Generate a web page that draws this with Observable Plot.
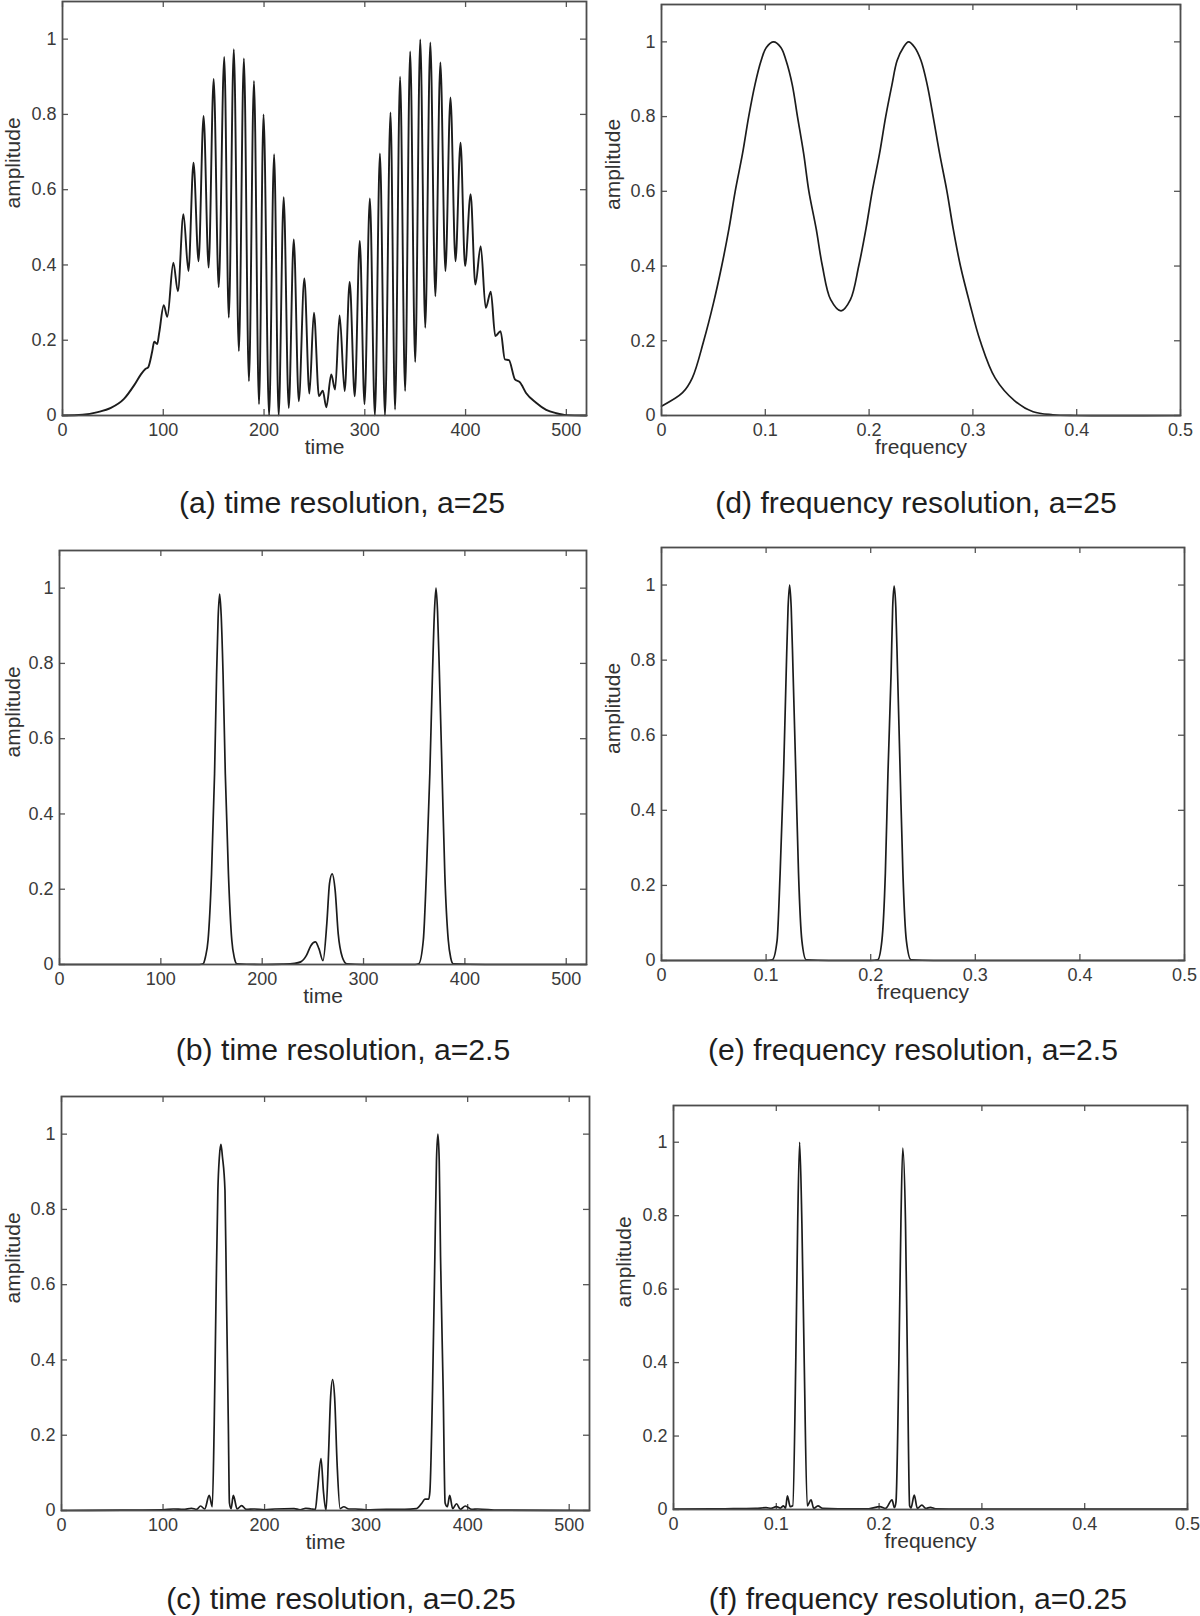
<!DOCTYPE html>
<html><head><meta charset="utf-8">
<script src="https://cdn.jsdelivr.net/npm/d3@7"></script>
<script src="https://cdn.jsdelivr.net/npm/@observablehq/plot@0.6"></script>
<style>
html,body{margin:0;padding:0;background:#fff;}
#page{position:relative;width:1200px;height:1616px;overflow:hidden;background:#fff;font-family:"Liberation Sans",Arial,Helvetica,sans-serif;}
.panel{position:absolute;}
.caption{position:absolute;font-size:29px;color:#1e1e1e;white-space:nowrap;transform:translate(-50%,-50%) scaleX(1.04);}
</style></head><body><div id="page"></div>
<script>
// ---------- tick values ----------
const timeTicks = [0, 100, 200, 300, 400, 500];
const freqTicks = [0, 0.1, 0.2, 0.3, 0.4, 0.5];
const ampTicks = [0, 0.2, 0.4, 0.6, 0.8, 1];

// ---------- (a) time resolution, a=25 ----------
const timeA = [0, 20, 35, 48, 61, 71, 78, 82, 85, 89, 91, 94, 96, 100.5, 104, 110, 114.5, 120, 125, 130, 135, 140, 145, 150, 155, 160.5, 165, 170, 175, 180, 185, 190, 195, 199.5, 205, 210, 214.5, 219.5, 224.5, 229.5, 234.5, 240, 245, 249.5, 254.5, 258.3, 261.8, 266.7, 270.5, 275, 280, 285, 290, 295, 299.7, 305, 310, 315, 320, 325.5, 330, 335, 340, 345, 350, 355, 360, 365, 370, 375, 380, 385, 390, 395, 399.5, 405, 409.7, 415, 420, 425, 429.5, 434.7, 439, 443, 449, 454, 460, 470, 480, 490, 500, 520];
const ampA = [0, 0.002, 0.009, 0.02, 0.044, 0.08, 0.11, 0.123, 0.128, 0.17, 0.196, 0.19, 0.22, 0.293, 0.262, 0.406, 0.33, 0.535, 0.384, 0.672, 0.41, 0.796, 0.393, 0.894, 0.341, 0.953, 0.26, 0.973, 0.171, 0.949, 0.091, 0.889, 0.03, 0.80, 0.0, 0.694, 0.0, 0.58, 0.02, 0.468, 0.038, 0.364, 0.058, 0.273, 0.051, 0.066, 0.022, 0.109, 0.069, 0.266, 0.065, 0.355, 0.051, 0.464, 0.03, 0.577, 0.0, 0.696, 0.0, 0.805, 0.016, 0.9, 0.065, 0.967, 0.142, 0.999, 0.233, 0.991, 0.317, 0.938, 0.384, 0.845, 0.41, 0.725, 0.397, 0.588, 0.348, 0.45, 0.286, 0.329, 0.211, 0.224, 0.149, 0.147, 0.096, 0.088, 0.06, 0.034, 0.015, 0.006, 0.001, 0];

// ---------- (d) frequency resolution, a=25 ----------
const freqD = [0, 0.0203, 0.0296, 0.0407, 0.05, 0.058, 0.065, 0.071, 0.078, 0.084, 0.09, 0.096, 0.101, 0.108, 0.115, 0.12, 0.126, 0.131, 0.137, 0.142, 0.149, 0.155, 0.163, 0.173, 0.182, 0.19, 0.197, 0.203, 0.21, 0.216, 0.222, 0.227, 0.233, 0.238, 0.244, 0.25, 0.256, 0.2617, 0.268, 0.275, 0.281, 0.288, 0.297, 0.307, 0.3215, 0.34, 0.358, 0.377, 0.4, 0.5];
const ampD = [0.025, 0.061, 0.1, 0.2, 0.3, 0.4, 0.5, 0.6, 0.7, 0.8, 0.885, 0.95, 0.985, 1.0, 0.985, 0.95, 0.885, 0.8, 0.7, 0.6, 0.5, 0.4, 0.31, 0.28, 0.31, 0.4, 0.5, 0.6, 0.7, 0.8, 0.885, 0.95, 0.985, 1.0, 0.985, 0.95, 0.885, 0.8, 0.7, 0.6, 0.5, 0.4, 0.3, 0.2, 0.1, 0.04, 0.01, 0.002, 0, 0];

// ---------- (b) time resolution, a=2.5 ----------
const timeB = [0, 100, 138, 141.7, 144, 146.6, 150, 153, 155, 156.5, 158, 159.5, 161.4, 163.6, 166.7, 170, 172.5, 175, 200, 220, 232, 238, 243.8, 248, 252.5, 256, 260, 263.8, 266.4, 269, 272, 275, 279, 283.4, 300, 340, 351, 354.5, 359, 362, 365.4, 368, 370, 371.5, 373, 374.9, 377.5, 380.2, 383.6, 386, 388.5, 420, 520];
const ampB = [0, 0, 0, 0.002, 0.02, 0.065, 0.24, 0.507, 0.77, 0.92, 0.984, 0.93, 0.77, 0.507, 0.24, 0.065, 0.018, 0.002, 0, 0.001, 0.003, 0.007, 0.025, 0.05, 0.06, 0.042, 0.01, 0.11, 0.215, 0.241, 0.197, 0.082, 0.02, 0.002, 0, 0, 0, 0.002, 0.065, 0.24, 0.507, 0.77, 0.94, 1.0, 0.94, 0.77, 0.507, 0.24, 0.065, 0.018, 0.002, 0, 0];

// ---------- (e) frequency resolution, a=2.5 ----------
const freqE = [0, 0.1, 0.106, 0.1105, 0.1134, 0.1167, 0.1192, 0.121, 0.1225, 0.124, 0.1258, 0.1284, 0.131, 0.1342, 0.1383, 0.16, 0.2, 0.2067, 0.2107, 0.214, 0.2165, 0.2195, 0.221, 0.2224, 0.224, 0.2257, 0.2282, 0.2308, 0.2341, 0.2385, 0.26, 0.5];
const ampE = [0, 0, 0.002, 0.053, 0.232, 0.499, 0.766, 0.94, 1.0, 0.94, 0.766, 0.499, 0.232, 0.053, 0.002, 0, 0, 0.002, 0.053, 0.232, 0.499, 0.766, 0.94, 0.997, 0.94, 0.766, 0.499, 0.232, 0.053, 0.002, 0, 0];

// ---------- (c) time resolution, a=0.25 ----------
const timeC = [0, 60, 100, 110, 120, 128, 133, 137, 141, 145.5, 148.5, 150.4, 152.3, 154, 155.5, 157, 158.5, 161, 162.4, 164.3, 165.4, 167, 169.2, 173, 177.4, 182, 190, 200, 210, 229, 235, 240.6, 246, 250, 252, 255.6, 258, 260.5, 263, 265, 267, 269, 271.5, 274.4, 278, 283, 289.5, 300, 320, 338, 349.6, 355, 357.9, 361.6, 362.8, 365.4, 367.7, 369.3, 370.7, 372, 373.3, 375.9, 377.8, 380, 382.3, 385.3, 389, 392.9, 397.7, 404, 410, 430, 520];
const ampC = [0, 0.001, 0.002, 0.004, 0.003, 0.006, 0.003, 0.012, 0.004, 0.04, 0.01, 0.23, 0.585, 0.85, 0.94, 0.973, 0.94, 0.85, 0.585, 0.23, 0.02, 0.005, 0.04, 0.004, 0.013, 0.003, 0.004, 0.002, 0.004, 0.005, 0.002, 0.006, 0.004, 0.003, 0.05, 0.138, 0.05, 0.0, 0.15, 0.3, 0.348, 0.3, 0.12, 0.005, 0.01, 0.004, 0.004, 0.002, 0.003, 0.003, 0.005, 0.02, 0.03, 0.03, 0.05, 0.32, 0.674, 0.93, 1.0, 0.93, 0.674, 0.32, 0.02, 0.01, 0.04, 0.005, 0.018, 0.003, 0.012, 0.003, 0.004, 0.001, 0];

// ---------- (f) frequency resolution, a=0.25 ----------
const freqF = [0, 0.05, 0.08, 0.09, 0.095, 0.1, 0.104, 0.107, 0.109, 0.1108, 0.1135, 0.116, 0.119, 0.1208, 0.1227, 0.1249, 0.1271, 0.1301, 0.1338, 0.1364, 0.1405, 0.145, 0.16, 0.19, 0.2007, 0.2063, 0.2126, 0.2149, 0.2164, 0.2193, 0.2212, 0.223, 0.2257, 0.2275, 0.2297, 0.231, 0.2342, 0.2372, 0.2416, 0.2454, 0.2498, 0.255, 0.28, 0.5];
const ampF = [0.001, 0.002, 0.003, 0.005, 0.003, 0.008, 0.004, 0.01, 0.004, 0.037, 0.008, 0.01, 0.413, 0.778, 1.0, 0.778, 0.413, 0.01, 0.026, 0.003, 0.01, 0.003, 0.002, 0.002, 0.008, 0.003, 0.026, 0.005, 0.02, 0.413, 0.778, 0.984, 0.778, 0.413, 0.01, 0.004, 0.039, 0.003, 0.012, 0.003, 0.006, 0.002, 0.001, 0.001];

// ---------- captions / labels ----------
const captions = ["(a) time resolution, a=25", "(d) frequency resolution, a=25", "(b) time resolution, a=2.5", "(e) frequency resolution, a=2.5", "(c) time resolution, a=0.25", "(f) frequency resolution, a=0.25"];

// ---------- layout (pixel frame boxes) ----------
const layout = [
  {xs: timeA, ys: ampA, kind: "time", col: 0,   L: 62,  R: 586,  T: 1,    B: 415,  cx: 342, cy: 503,  sw: 1.9, curve: "monotone-x"},
  {xs: freqD, ys: ampD, kind: "freq", col: 600, L: 661, R: 1180, T: 4,    B: 415,  cx: 916, cy: 503,  sw: 1.7, curve: "catmull-rom"},
  {xs: timeB, ys: ampB, kind: "time", col: 0,   L: 59,  R: 586,  T: 550,  B: 964,  cx: 343, cy: 1050, sw: 1.7, curve: "monotone-x"},
  {xs: freqE, ys: ampE, kind: "freq", col: 600, L: 661, R: 1184, T: 547,  B: 960,  cx: 913, cy: 1050, sw: 1.7, curve: "monotone-x"},
  {xs: timeC, ys: ampC, kind: "time", col: 0,   L: 61,  R: 589,  T: 1096, B: 1510, cx: 341, cy: 1599, sw: 1.7, curve: "monotone-x"},
  {xs: freqF, ys: ampF, kind: "freq", col: 600, L: 673, R: 1187, T: 1105, B: 1509, cx: 918, cy: 1599, sw: 1.7, curve: "monotone-x"}
];

const page = document.getElementById("page");
const FONT = "'Liberation Sans', Arial, Helvetica, sans-serif";

layout.forEach((p, i) => {
  const mt = 12, mb = 60, W = 600;
  const fh = p.B - p.T, fw = p.R - p.L;
  const H = fh + mt + mb;
  const xTicks = p.kind === "time" ? timeTicks : freqTicks;
  const data = p.xs.map((x, k) => ({x, y: p.ys[k]}));
  const tickStyle = {stroke: "#555", strokeWidth: 1.3};
  const ampCenter = Math.max(p.L - p.col - 49, 13);
  const chart = Plot.plot({
    width: W, height: H,
    marginLeft: p.L - p.col, marginRight: p.col + W - p.R, marginTop: mt, marginBottom: mb,
    style: {fontFamily: FONT, fontSize: "18px", color: "#3a3a3a", background: "transparent", overflow: "visible"},
    x: {domain: p.kind === "time" ? [0, 520] : [0, 0.5]},
    y: {domain: [0, 1.1]},
    marks: [
      Plot.tickX(xTicks, {x: d => d, insetTop: fh - 6, ...tickStyle}),
      Plot.tickX(xTicks, {x: d => d, insetBottom: fh - 6, ...tickStyle}),
      Plot.tickY(ampTicks, {y: d => d, insetRight: fw - 6, ...tickStyle}),
      Plot.tickY(ampTicks, {y: d => d, insetLeft: fw - 6, ...tickStyle}),
      Plot.axisX({ticks: xTicks, tickSize: 0, tickPadding: 8, tickFormat: d => String(d), label: null, fontSize: 18}),
      Plot.axisY({ticks: ampTicks, tickSize: 0, tickPadding: 6, tickFormat: d => String(d), label: null, fontSize: 18}),
      Plot.line(data, {x: "x", y: "y", stroke: "#1c1c1c", strokeWidth: p.sw, curve: p.curve}),
      Plot.frame({stroke: "#4d4d4d", strokeWidth: 1.8}),
      Plot.text([p.kind === "time" ? "time" : "frequency"], {frameAnchor: "bottom", dy: 38, fontSize: 21, fill: "#333"}),
      Plot.text(["amplitude"], {frameAnchor: "left", dx: -(p.L - p.col - ampCenter), rotate: -90, fontSize: 21, fill: "#333"})
    ]
  });
  const div = document.createElement("div");
  div.className = "panel";
  div.style.left = p.col + "px";
  div.style.top = (p.T - mt) + "px";
  div.appendChild(chart);
  page.appendChild(div);

  const cap = document.createElement("div");
  cap.className = "caption";
  cap.style.left = p.cx + "px";
  cap.style.top = p.cy + "px";
  cap.textContent = captions[i];
  page.appendChild(cap);
});
</script>
</body></html>
